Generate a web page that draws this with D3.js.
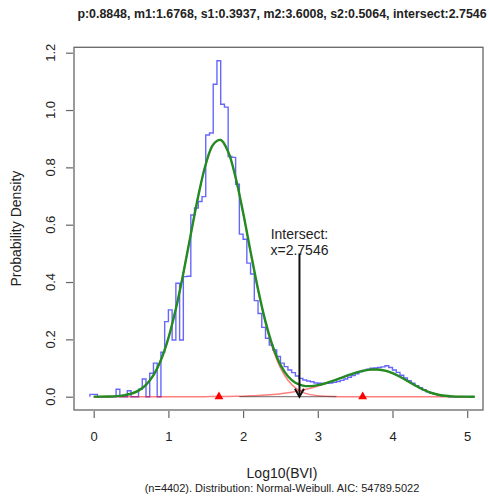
<!DOCTYPE html>
<html><head><meta charset="utf-8">
<script src="https://cdn.jsdelivr.net/npm/d3@7"></script>
<style>
html,body{margin:0;padding:0;background:#fff;}
svg{display:block;font-family:"Liberation Sans",Arial,sans-serif;}
</style></head>
<body>
<svg id="chart" width="489" height="497"></svg>
<script>
// ---- data ----
const titleText = "p:0.8848, m1:1.6768, s1:0.3937, m2:3.6008, s2:0.5064, intersect:2.7546";
const xLabel = "Log10(BVI)";
const yLabel = "Probability Density";
const subLabel = "(n=4402). Distribution: Normal-Weibull. AIC: 54789.5022";
const xTicks = [0, 1, 2, 3, 4, 5];
const yTicks = [0, 0.2, 0.4, 0.6, 0.8, 1.0, 1.2];
const yTickLabels = ["0.0", "0.2", "0.4", "0.6", "0.8", "1.0", "1.2"];

const binStart = -0.05;
const binWidth = 0.05;
const histDensity = [
  0.008, 0.008, 0, 0, 0, 0, 0, 0.026, 0, 0,
  0.021, 0, 0, 0.026, 0.062, 0, 0.082, 0.117, 0, 0.155,
  0.262, 0.303, 0.198, 0.396, 0.198, 0.419, 0.420, 0.634, 0.658, 0.681,
  0.698, 0.913, 0.920, 1.090, 1.172, 1.020, 1.010, 0.838, 0.835, 0.741,
  0.567, 0.549, 0.466, 0.428, 0.335, 0.290, 0.242, 0.204, 0.180, 0.163,
  0.140, 0.117, 0.105, 0.093, 0.084, 0.072, 0.064, 0.058, 0.055, 0.052,
  0.048, 0.047, 0.046, 0.047, 0.048, 0.050, 0.053, 0.057, 0.062, 0.068,
  0.074, 0.080, 0.087, 0.092, 0.096, 0.099, 0.100, 0.102, 0.104, 0.108,
  0.102, 0.093, 0.085, 0.075, 0.065, 0.056, 0.047, 0.038, 0.031, 0.024,
  0.017, 0.012, 0.008, 0.005, 0.003, 0.001, 0, 0, 0, 0,
  0
];

const curveX = [0,0.1,0.2,0.3,0.4,0.5,0.6,0.7,0.8,0.9,1.0,1.1,1.2,1.3,1.4,1.5,1.6,1.7,1.8,1.9,
  2.0,2.1,2.2,2.3,2.4,2.5,2.6,2.7,2.8,2.9,3.0,3.1,3.2,3.3,3.4,3.5,3.6,3.7,3.8,3.9,
  4.0,4.1,4.2,4.3,4.4,4.5,4.6,4.7,4.8,4.9,5.0,5.1];
const mixtureDensity = [0.0001,0.0003,0.0008,0.0020,0.0047,0.0103,0.0213,0.0413,0.0751,0.1280,
  0.2046,0.3066,0.4306,0.5672,0.7003,0.8108,0.8801,0.8956,0.8547,0.7649,
  0.6422,0.5061,0.3749,0.2619,0.1737,0.1112,0.0713,0.0488,0.0387,0.0369,
  0.0403,0.0468,0.0553,0.0647,0.0743,0.0831,0.0901,0.0943,0.0947,0.0907,
  0.0821,0.0698,0.0550,0.0398,0.0261,0.0152,0.0078,0.0034,0.0013,0.0004,0.0001,0];
const comp1Density = [0.0001,0.0003,0.0008,0.0020,0.0047,0.0103,0.0213,0.0413,0.0751,0.1280,
  0.2046,0.3066,0.4306,0.5672,0.7003,0.8106,0.8797,0.8950,0.8538,0.7635,
  0.6402,0.5032,0.3708,0.2562,0.1659,0.1007,0.0574,0.0306,0.0153,0.0072,
  0.0032,0.0013,0.0005,0.0002,0.0001,0,0,0,0,0,
  0,0,0,0,0,0,0,0,0,0,0,0];
const comp2Density = [0,0,0,0,0,0,0,0,0,0,
  0,0,0,0,0,0.0002,0.0004,0.0006,0.0009,0.0014,
  0.0020,0.0029,0.0041,0.0057,0.0078,0.0105,0.0139,0.0182,0.0234,0.0297,
  0.0371,0.0455,0.0548,0.0645,0.0742,0.0831,0.0901,0.0943,0.0947,0.0907,
  0.0821,0.0698,0.0550,0.0398,0.0261,0.0152,0.0078,0.0034,0.0013,0.0004,0.0001,0];

const componentMeans = [1.6768, 3.6008];
const intersectX = 2.7546;
const intersectTop = 0.5;
const darkBaseline = [1.95, 3.25];

// ---- layout ----
const svg = d3.select("#chart");
const box = {left: 74, right: 483, top: 47.3, bottom: 410};
const x = d3.scaleLinear().domain([0, 5]).range([93.7, 467.2]);
const y = d3.scaleLinear().domain([0, 1.2]).range([396.7, 52.7]);
const textCol = "#222";

// histogram step outline
const histPts = [[binStart, 0]];
histDensity.forEach((d, i) => histPts.push([binStart + i * binWidth, d]));
histPts.push([binStart + histDensity.length * binWidth, 0]);
const stepLine = d3.line().x(d => x(d[0])).y(d => y(d[1])).curve(d3.curveStepAfter);
svg.append("path").attr("d", stepLine(histPts))
  .attr("fill", "none").attr("stroke", "rgba(0,0,255,0.6)").attr("stroke-width", 1.4);

// components
const smooth = d3.line().x(d => x(d[0])).y(d => y(d[1])).curve(d3.curveCatmullRom.alpha(0.5));
[comp1Density, comp2Density].forEach(arr => {
  svg.append("path").attr("d", smooth(curveX.map((v, i) => [v, arr[i]])))
    .attr("fill", "none").attr("stroke", "rgba(255,0,0,0.5)").attr("stroke-width", 1.5);
});
svg.append("line")
  .attr("x1", x(darkBaseline[0])).attr("x2", x(darkBaseline[1]))
  .attr("y1", y(0)).attr("y2", y(0))
  .attr("stroke", "rgba(70,50,50,0.6)").attr("stroke-width", 1.3);

// mixture
svg.append("path").attr("d", smooth(curveX.map((v, i) => [v, mixtureDensity[i]])))
  .attr("fill", "none").attr("stroke", "#228B22").attr("stroke-width", 2.4);

// triangles at means
svg.selectAll(".tri").data(componentMeans).enter().append("path")
  .attr("d", d3.symbol(d3.symbolTriangle, 34)())
  .attr("transform", d => `translate(${x(d)},${y(0)})`)
  .attr("fill", "#ff0000");

// arrow
const ax = x(intersectX), ay0 = y(intersectTop), ay1 = y(0);
svg.append("line").attr("x1", ax).attr("x2", ax).attr("y1", ay0).attr("y2", ay1)
  .attr("stroke", "#111").attr("stroke-width", 2);
svg.append("path")
  .attr("d", `M${ax - 4.5},${ay1 - 8} L${ax},${ay1} L${ax + 4.5},${ay1 - 8}`)
  .attr("fill", "none").attr("stroke", "#111").attr("stroke-width", 2);
svg.append("text").attr("x", ax).attr("y", 239).attr("text-anchor", "middle")
  .attr("font-size", 14).attr("fill", textCol).text("Intersect:");
svg.append("text").attr("x", ax).attr("y", 255).attr("text-anchor", "middle")
  .attr("font-size", 14).attr("fill", textCol).text("x=" + intersectX.toFixed(4));

// box
svg.append("rect").attr("x", box.left).attr("y", box.top)
  .attr("width", box.right - box.left).attr("height", box.bottom - box.top)
  .attr("fill", "none").attr("stroke", "#666").attr("stroke-width", 1.3);

// x axis
const xAxis = d3.axisBottom(x).tickValues(xTicks).tickSize(7).tickFormat(d3.format("d"));
const gx = svg.append("g").attr("transform", `translate(0,${box.bottom + 1})`).call(xAxis);
gx.select(".domain").attr("stroke", "#666").attr("d", `M${x(0)},0H${x(5)}`).attr("stroke-width", 0);
gx.selectAll(".tick line").attr("stroke", "#666").attr("stroke-width", 1.2);
gx.selectAll(".tick text").attr("font-size", 13).attr("fill", textCol)
  .attr("font-family", "Liberation Sans, Arial, sans-serif").attr("dy", null).attr("y", 30);

// y axis
const yAxis = d3.axisLeft(y).tickValues(yTicks).tickSize(7)
  .tickFormat((d, i) => yTickLabels[i]);
const gy = svg.append("g").attr("transform", `translate(${box.left - 1},0)`).call(yAxis);
gy.select(".domain").remove();
gy.selectAll(".tick line").attr("stroke", "#666").attr("stroke-width", 1.2);
gy.selectAll(".tick text").remove();
svg.selectAll(".ylab").data(yTicks).enter().append("text")
  .attr("transform", (d) => `translate(55,${y(d)}) rotate(-90)`)
  .attr("text-anchor", "middle").attr("font-size", 13).attr("fill", textCol)
  .text((d, i) => yTickLabels[i]);

// titles
svg.append("text").attr("x", 282).attr("y", 18).attr("text-anchor", "middle")
  .attr("font-size", 12.4).attr("font-weight", "bold").attr("fill", textCol).text(titleText);
svg.append("text").attr("x", 282).attr("y", 478).attr("text-anchor", "middle")
  .attr("font-size", 14).attr("fill", textCol).text(xLabel);
svg.append("text").attr("x", 282).attr("y", 492).attr("text-anchor", "middle")
  .attr("font-size", 11).attr("fill", textCol).text(subLabel);
svg.append("text").attr("transform", `translate(21,${(box.top + box.bottom) / 2}) rotate(-90)`)
  .attr("text-anchor", "middle").attr("font-size", 14).attr("fill", textCol).text(yLabel);
</script>
</body></html>
